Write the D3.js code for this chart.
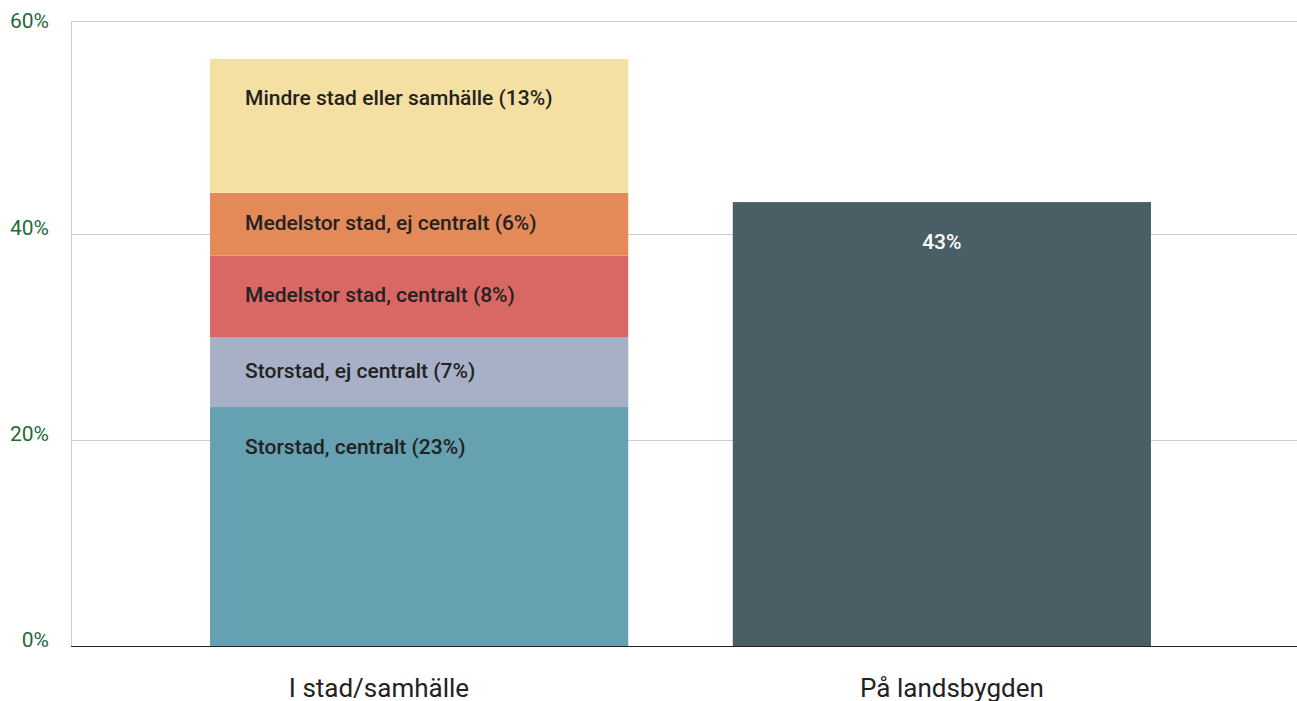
<!DOCTYPE html>
<html>
<head>
<meta charset="utf-8">
<script src="https://cdn.jsdelivr.net/npm/d3@7"></script>
<style>
  body { margin: 0; background: #fff; }
  svg { display: block; font-family: Roboto, sans-serif; }
</style>
</head>
<body>
<svg id="chart" width="1297" height="701"></svg>
<script>
const categories = ["I stad/samhälle", "På landsbygden"];
const segmentNames = [
  "Storstad, centralt (23%)",
  "Storstad, ej centralt (7%)",
  "Medelstor stad, centralt (8%)",
  "Medelstor stad, ej centralt (6%)",
  "Mindre stad eller samhälle (13%)"
];
const segmentValues = [23.2, 6.8, 7.9, 6.1, 13.0];
const segmentColors = ["#65a1b1", "#a8b0c8", "#d96864", "#e48a59", "#f4e0a2"];
const ruralValue = 43.1;
const ruralLabel = "43%";
const ruralColor = "#4a5e66";
const yTicks = [0, 20, 40, 60];

const svg = d3.select("#chart");
const margin = { top: 28, right: 7, bottom: 55, left: 71 };
const width = 1297, height = 701;

const x = d3.scaleBand()
  .domain(categories)
  .range([margin.left, width - margin.right])
  .paddingInner(0.2)
  .paddingOuter(0.266);

// the category axis in the source is laid out on its own band
const xLabel = d3.scaleBand()
  .domain(categories)
  .range([margin.left, 1260])
  .paddingOuter(0.0375);

const y = d3.scaleLinear()
  .domain([0, 60])
  .range([height - margin.bottom, margin.top]);

// gridlines
svg.append("g")
  .selectAll("line")
  .data(yTicks.filter((d) => d > 0 && d < 60))
  .join("line")
  .attr("x1", margin.left)
  .attr("x2", width)
  .attr("y1", (d) => Math.round(y(d)) + 0.5)
  .attr("y2", (d) => Math.round(y(d)) + 0.5)
  .attr("stroke", "#cccccc")
  .attr("stroke-width", 1);

// top frame + left axis line
svg.append("line")
  .attr("x1", margin.left).attr("x2", width)
  .attr("y1", 21.5).attr("y2", 21.5)
  .attr("stroke", "#cccccc");
svg.append("line")
  .attr("x1", margin.left + 0.5).attr("x2", margin.left + 0.5)
  .attr("y1", 21).attr("y2", y(0))
  .attr("stroke", "#cccccc");

// y tick labels
svg.append("g")
  .selectAll("text")
  .data(yTicks)
  .join("text")
  .text((d) => d + "%")
  .attr("x", 49)
  .attr("y", (d) => (d === 60 ? 22 : y(d) - 5))
  .attr("text-anchor", "end")
  .attr("dominant-baseline", "middle")
  .attr("font-size", 21)
  .attr("fill", "#1e6b3a");

// stacked segments
let acc = 0;
const stack = segmentValues.map((v, i) => {
  const s = { name: segmentNames[i], y0: acc, y1: acc + v, color: segmentColors[i] };
  acc += v;
  return s;
});

const bx = x(categories[0]);
const bw = x.bandwidth();

svg.append("g")
  .selectAll("rect")
  .data(stack)
  .join("rect")
  .attr("x", bx)
  .attr("width", bw)
  .attr("y", (d) => y(d.y1))
  .attr("height", (d) => y(d.y0) - y(d.y1))
  .attr("fill", (d) => d.color);

svg.append("g")
  .selectAll("text")
  .data(stack)
  .join("text")
  .text((d) => d.name)
  .attr("x", bx + 35)
  .attr("y", (d) => y(d.y1) + Math.min(41, (y(d.y0) - y(d.y1)) / 2))
  .attr("dominant-baseline", "middle")
  .attr("font-size", 21)
  .attr("font-weight", 500)
  .attr("fill", "#222222");

// rural bar
svg.append("rect")
  .attr("x", x(categories[1]))
  .attr("width", bw)
  .attr("y", y(ruralValue))
  .attr("height", y(0) - y(ruralValue))
  .attr("fill", ruralColor);

svg.append("text")
  .text(ruralLabel)
  .attr("x", x(categories[1]) + bw / 2)
  .attr("y", y(ruralValue) + 41)
  .attr("text-anchor", "middle")
  .attr("dominant-baseline", "middle")
  .attr("font-size", 21)
  .attr("font-weight", 500)
  .attr("fill", "#ffffff");

// baseline
svg.append("line")
  .attr("x1", margin.left).attr("x2", width)
  .attr("y1", y(0) + 0.5).attr("y2", y(0) + 0.5)
  .attr("stroke", "#222222");

// category labels
svg.append("g")
  .selectAll("text")
  .data(categories)
  .join("text")
  .text((d) => d)
  .attr("x", (d) => xLabel(d) + xLabel.bandwidth() / 2)
  .attr("y", 697)
  .attr("text-anchor", "middle")
  .attr("font-size", 26)
  .attr("fill", "#222222");
</script>
</body>
</html>
